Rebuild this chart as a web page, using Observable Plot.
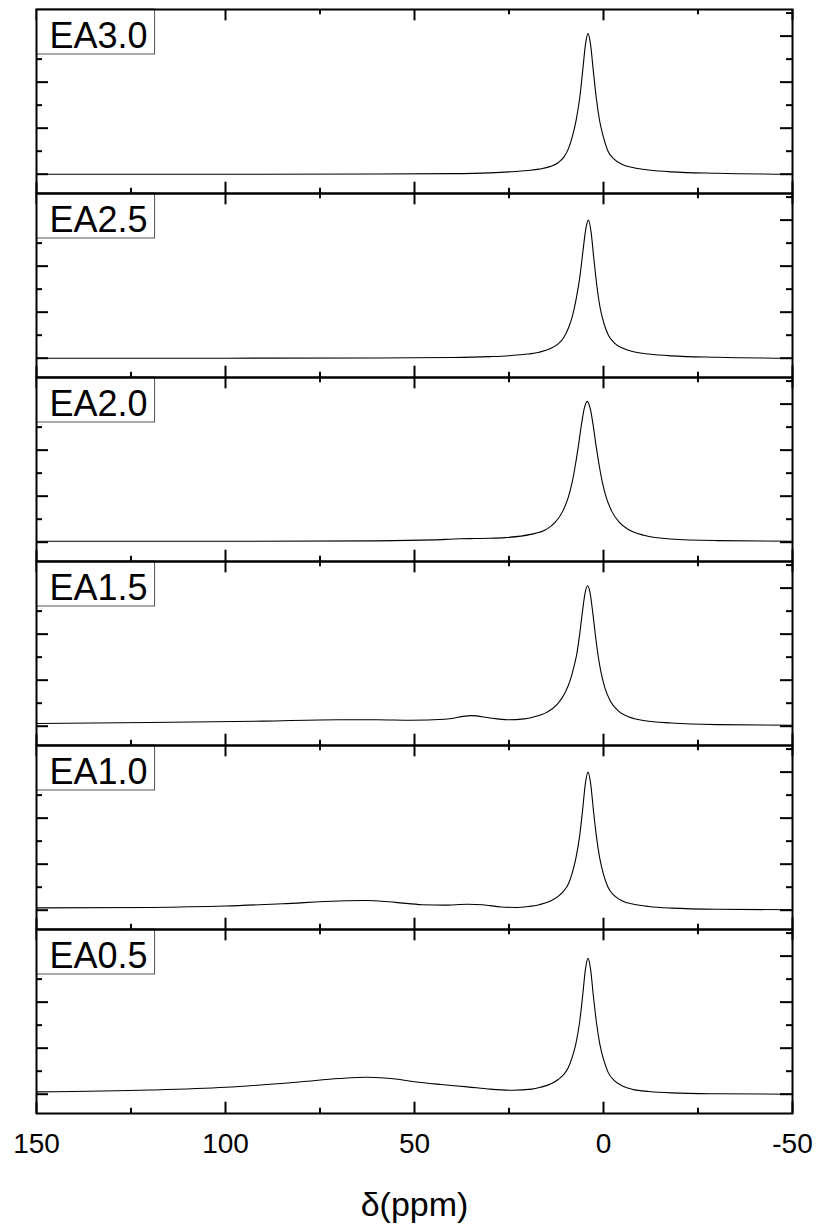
<!DOCTYPE html>
<html>
<head>
<meta charset="utf-8">
<script src="https://cdn.jsdelivr.net/npm/d3@7"></script>
<script src="https://cdn.jsdelivr.net/npm/@observablehq/plot@0.6"></script>
<style>
  html, body { margin: 0; padding: 0; background: #fff; }
  #chart svg { font-family: "Liberation Sans", Arial, sans-serif; display: block; }
</style>
</head>
<body>
<div id="chart"></div>
<script>
// Sample labels (top to bottom)
const samples = ["EA3.0", "EA2.5", "EA2.0", "EA1.5", "EA1.0", "EA0.5"];

// Tick values
const xMajor = [150, 100, 50, 0, -50];
const xMinor = [125, 75, 25, -25];
const yMajor = [0, 1, 2, 3];
const yMinor = [0.5, 1.5, 2.5, 3.5];

// Spectra: [ppm, intensity (a.u.)]
const EA30 = [[150,0],[100,0],[60,0.003],[40,0.012],[30,0.03],[25,0.05],[20,0.08],[17,0.11],[14,0.17],[12,0.25],[10.5,0.37],[9.3,0.55],[8.3,0.8],[7.3,1.15],[6.3,1.65],[5.5,2.25],[4.8,2.8],[4.1,3.06],[3.4,2.8],[2.7,2.25],[1.9,1.65],[1.0,1.15],[0.0,0.8],[-1.2,0.5],[-2.8,0.33],[-5,0.21],[-8,0.14],[-12,0.09],[-18,0.05],[-30,0.02],[-50,0]];
const EA25 = [[150,0],[100,0],[60,0.005],[40,0.015],[30,0.035],[25,0.055],[20,0.09],[17,0.13],[14,0.21],[12,0.31],[10.5,0.45],[9.3,0.65],[8.2,0.92],[7.2,1.3],[6.2,1.8],[5.4,2.35],[4.7,2.8],[4.0,3.0],[3.3,2.75],[2.6,2.2],[1.8,1.6],[0.9,1.1],[-0.1,0.76],[-1.3,0.5],[-2.9,0.33],[-5,0.22],[-8,0.14],[-12,0.09],[-18,0.05],[-30,0.02],[-50,0]];
const EA20 = [[150,0.02],[100,0.02],[60,0.03],[45,0.05],[38,0.075],[34,0.08],[30,0.085],[26,0.1],[19.3,0.17],[15.3,0.27],[12.8,0.43],[10.8,0.67],[9.3,0.98],[8.3,1.3],[7.5,1.65],[6.7,2.06],[5.9,2.52],[5.1,2.9],[4.3,3.06],[3.5,2.9],[2.7,2.52],[1.9,2.06],[1.1,1.65],[0.3,1.3],[-0.7,0.98],[-2.2,0.67],[-4.2,0.43],[-6.7,0.27],[-10.7,0.15],[-17.7,0.07],[-30,0.035],[-50,0.02]];
const EA15 = [[150,0.06],[120,0.08],[90,0.11],[70,0.14],[60,0.14],[51,0.13],[42,0.15],[35,0.23],[30,0.18],[25.5,0.14],[21,0.16],[18.5,0.2],[15,0.3],[12.2,0.48],[10.2,0.72],[8.8,1.0],[7.8,1.3],[7.0,1.6],[6.3,2.0],[5.6,2.47],[4.9,2.88],[4.2,3.05],[3.5,2.87],[2.8,2.44],[2.1,1.95],[1.4,1.52],[0.7,1.19],[-0.3,0.85],[-1.8,0.55],[-3.8,0.34],[-6.8,0.2],[-11,0.12],[-18,0.07],[-30,0.035],[-50,0.02]];
const EA10 = [[150,0.05],[120,0.06],[100,0.09],[85,0.14],[70,0.2],[63,0.21],[55,0.17],[48,0.12],[42,0.11],[36,0.13],[32,0.12],[27,0.07],[23,0.06],[20,0.08],[17,0.12],[14,0.2],[12,0.3],[10.5,0.42],[9.3,0.57],[8.3,0.8],[7.3,1.13],[6.3,1.62],[5.5,2.2],[4.8,2.75],[4.1,3.0],[3.4,2.75],[2.7,2.2],[1.9,1.62],[1.0,1.13],[0.0,0.78],[-1.2,0.5],[-2.8,0.32],[-5,0.2],[-8,0.13],[-12,0.08],[-18,0.045],[-30,0.02],[-50,0.01]];
const EA05 = [[150,0.05],[120,0.09],[100,0.15],[80,0.27],[70,0.34],[62.5,0.37],[55,0.33],[50,0.27],[43,0.21],[36,0.16],[30,0.11],[24,0.085],[19,0.11],[16.7,0.15],[14,0.22],[12,0.32],[10.5,0.43],[9.3,0.58],[8.3,0.8],[7.3,1.1],[6.3,1.58],[5.5,2.15],[4.8,2.7],[4.1,2.95],[3.4,2.7],[2.7,2.15],[1.9,1.58],[1.0,1.1],[0.0,0.76],[-1.2,0.48],[-2.8,0.3],[-5,0.18],[-8,0.1],[-12,0.06],[-18,0.03],[-30,0.01],[-50,0]];

const spectra = [EA30, EA25, EA20, EA15, EA10, EA05];
const table = spectra.flatMap((s, i) => s.map(([ppm, v]) => ({sample: samples[i], ppm, v})));

const W = 818, H = 1225;
const mL = 36, mR = 26, mT = 7, mB = 110;
const plotW = W - mL - mR;
const panelH = (H - mT - mB) / samples.length;
const majorLen = 12, minorLen = 6;
const tickStyle = {stroke: "#000", strokeWidth: 2};

const chart = Plot.plot({
  width: W,
  height: H,
  marginLeft: mL,
  marginRight: mR,
  marginTop: mT,
  marginBottom: mB,
  x: {domain: [150, -50]},
  y: {domain: [-0.419, 3.578], axis: null},
  fy: {domain: samples, padding: 0, axis: null},
  marks: [
    Plot.tickX(xMajor, {x: d => d, insetBottom: panelH - majorLen, ...tickStyle}),
    Plot.tickX(xMajor, {x: d => d, insetTop: panelH - majorLen, ...tickStyle}),
    Plot.tickX(xMinor, {x: d => d, insetBottom: panelH - minorLen, ...tickStyle}),
    Plot.tickX(xMinor, {x: d => d, insetTop: panelH - minorLen, ...tickStyle}),
    Plot.tickY(yMajor, {y: d => d, insetRight: plotW - majorLen, ...tickStyle}),
    Plot.tickY(yMajor, {y: d => d, insetLeft: plotW - majorLen, ...tickStyle}),
    Plot.tickY(yMinor, {y: d => d, insetRight: plotW - minorLen, ...tickStyle}),
    Plot.tickY(yMinor, {y: d => d, insetLeft: plotW - minorLen, ...tickStyle}),
    Plot.line(table, {x: "ppm", y: "v", fy: "sample", z: "sample", curve: "monotone-x", stroke: "#000", strokeWidth: 1.1}),
    Plot.text(samples, {fy: d => d, text: d => d, frameAnchor: "top-left", dx: 13, dy: 38, lineAnchor: "bottom", textAnchor: "start", fontSize: 36, fill: "#000"}),
    Plot.frame({stroke: "#000", strokeWidth: 2}),
    Plot.axisX({anchor: "bottom", ticks: xMajor, tickSize: 0, tickPadding: 20, fontSize: 28, tickFormat: d => String(d), label: "δ(ppm)", labelAnchor: "center", labelArrow: "none", labelOffset: 102, fill: "#000"})
  ]
});

document.getElementById("chart").appendChild(chart);

// larger axis title
d3.select(chart).selectAll("g[aria-label='x-axis label']").attr("font-size", 34);

// white boxes behind panel labels
const labelSet = new Set(samples);
d3.select(chart).selectAll("text").each(function () {
  if (!labelSet.has(this.textContent.trim())) return;
  const b = this.getBBox();
  const r = document.createElementNS("http://www.w3.org/2000/svg", "rect");
  r.setAttribute("x", b.x - 13);
  r.setAttribute("y", b.y - 5.5);
  r.setAttribute("width", b.width + 20);
  r.setAttribute("height", 45);
  r.setAttribute("fill", "#fff");
  r.setAttribute("stroke", "#555");
  r.setAttribute("stroke-width", 1);
  const tr = this.getAttribute("transform");
  if (tr) r.setAttribute("transform", tr);
  this.parentNode.insertBefore(r, this);
});
</script>
</body>
</html>
